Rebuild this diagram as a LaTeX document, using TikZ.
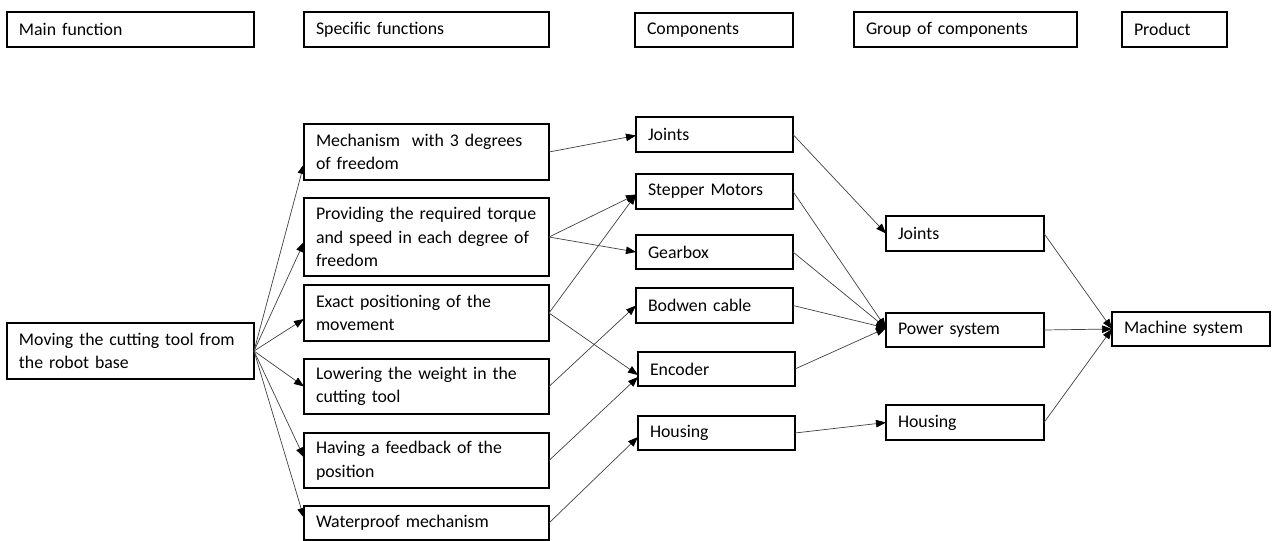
\documentclass[tikz,border=0pt]{standalone}
\usepackage{fontspec}
\setmainfont{Carlito}
\usetikzlibrary{arrows.meta,calc}
\tikzset{
  box/.style={draw=black, line width=1.2pt, rectangle, inner xsep=12pt, inner ysep=0pt,
    outer sep=0pt, align=left, font=\fontsize{17.8}{23.5}\selectfont},
  conn/.style={-{Triangle[length=10pt,width=7.5pt,color=black]}, line width=0.7pt, draw=black!75}
}
\newcommand\mybox[6]{%
  \pgfmathsetmacro\mybh{#5-#3}%
  \pgfmathsetmacro\mytw{#4-#2-24}%
  \node[box, minimum height=\mybh pt, text width=\mytw pt] (#1) at ({(#2+#4)/2},{(#3+#5)/2}) {#6};}
\begin{document}
\begin{tikzpicture}[x=1pt,y=-1pt]
\useasboundingbox (0,0) rectangle (1278,541);
% headers
\mybox{hmain}{7}{12}{254}{47}{Main function}
\mybox{hspec}{304}{12}{549}{47}{Specific functions}
\mybox{hcomp}{635}{13}{793}{47}{Components}
\mybox{hgroup}{854}{12}{1077}{47}{Group of components}
\mybox{hprod}{1122}{12}{1227}{47}{Product}
% main
\mybox{moving}{7}{323}{254}{379}{Moving the cutting tool from\\the robot base}
% specific
\mybox{mech}{304}{124}{549}{180}{Mechanism~ with 3 degrees\\of freedom}
\mybox{prov}{304}{198}{549}{276}{Providing the required torque\\and speed in each degree of\\freedom}
\mybox{exact}{304}{285}{549}{341}{Exact positioning of the\\movement}
\mybox{lower}{304}{359}{549}{414}{Lowering the weight in the\\cutting tool}
\mybox{feed}{304}{433}{549}{488}{Having a feedback of the\\position}
\mybox{water}{304}{506}{549}{540}{Waterproof mechanism}
% components
\mybox{jointsC}{636}{117}{793}{152}{Joints}
\mybox{stepper}{636}{174}{793}{209}{Stepper Motors}
\mybox{gear}{636}{235}{793}{269}{Gearbox}
\mybox{bodwen}{636}{288}{793}{323}{Bodwen cable}
\mybox{enc}{638}{352}{795}{386}{Encoder}
\mybox{housC}{638}{416}{795}{450}{Housing}
% groups
\mybox{jointsG}{886}{216}{1044}{251}{Joints}
\mybox{power}{886}{313}{1044}{347}{Power system}
\mybox{housG}{886}{405}{1044}{440}{Housing}
% product
\mybox{machine}{1112}{312}{1270}{346}{Machine system}
% main -> specific
\draw[conn] (moving.east) -- ($(mech.west)+(0,12)$);
\draw[conn] (moving.east) -- ($(prov.west)+(0,5)$);
\draw[conn] (moving.east) -- ($(exact.west)+(0,6)$);
\draw[conn] (moving.east) -- (lower.west);
\draw[conn] (moving.east) -- ($(feed.west)+(0,-3)$);
\draw[conn] (moving.east) -- ($(water.west)+(0,-5)$);
% specific -> components
\draw[conn] (mech.east) -- ($(jointsC.west)+(0,1)$);
\draw[conn] (prov.east) -- ($(stepper.west)+(0,3)$);
\draw[conn] (prov.east) -- (gear.west);
\draw[conn] (exact.east) -- ($(stepper.west)+(0,3)$);
\draw[conn] (exact.east) -- ($(enc.west)+(0,6)$);
\draw[conn] (lower.east) -- (bodwen.west);
\draw[conn] (feed.east) -- ($(enc.west)+(0,8)$);
\draw[conn] (water.east) -- ($(housC.west)+(0,4)$);
% components -> groups
\draw[conn] (jointsC.east) -- (jointsG.west);
\draw[conn] (stepper.east) -- ($(power.west)+(0,-2)$);
\draw[conn] (gear.east) -- ($(power.west)+(0,-2)$);
\draw[conn] (bodwen.east) -- ($(power.west)+(0,-2)$);
\draw[conn] (enc.east) -- ($(power.west)+(0,-2)$);
\draw[conn] (housC.east) -- (housG.west);
% groups -> product
\draw[conn] (jointsG.east) -- (machine.west);
\draw[conn] (power.east) -- (machine.west);
\draw[conn] (housG.east) -- (machine.west);
\end{tikzpicture}
\end{document}
